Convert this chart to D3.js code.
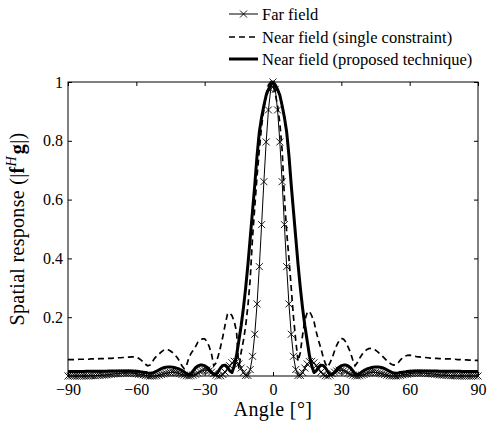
<!DOCTYPE html>
<html>
<head>
<meta charset="utf-8">
<script src="https://cdn.jsdelivr.net/npm/d3@7"></script>
<style>
  body { margin: 0; background: #fff; }
  text { font-family: "Liberation Serif", "Times New Roman", serif; fill: #000; }
</style>
</head>
<body>
<div id="chart"></div>
<script>
// Angle grid in degrees
const angles = [
  -90,-89,-88,-87,-86,-85,-84,-83,-82,-81,-80,-79,-78,-77,-76,-75,-74,-73,-72,-71,
  -70,-69,-68,-67,-66,-65,-64,-63,-62,-61,-60,-59,-58,-57,-56,-55,-54,-53,-52,-51,
  -50,-49,-48,-47,-46,-45,-44,-43,-42,-41,-40,-39,-38,-37,-36,-35,-34,-33,-32,-31,
  -30,-29,-28,-27,-26,-25,-24,-23,-22,-21,-20,-19,-18,-17,-16,-15,-14,-13,-12,-11,
  -10,-9,-8,-7,-6,-5,-4,-3,-2,-1,0,1,2,3,4,5,6,7,8,9,
  10,11,12,13,14,15,16,17,18,19,20,21,22,23,24,25,26,27,28,29,
  30,31,32,33,34,35,36,37,38,39,40,41,42,43,44,45,46,47,48,49,
  50,51,52,53,54,55,56,57,58,59,60,61,62,63,64,65,66,67,68,69,
  70,71,72,73,74,75,76,77,78,79,80,81,82,83,84,85,86,87,88,89,90
];

const farField = [
  0,0,0,0,0,0,0,0,0,0,
  0.001,0.001,0.001,0.002,0.002,0.003,0.003,0.004,0.005,0.006,
  0.007,0.008,0.008,0.009,0.010,0.010,0.010,0.010,0.010,0.009,
  0.008,0.006,0.005,0.004,0.002,0.001,0.000,0.000,0.000,0.001,
  0.003,0.005,0.007,0.009,0.011,0.012,0.013,0.012,0.010,0.008,
  0.005,0.003,0.001,0.000,0.001,0.003,0.006,0.010,0.015,0.018,
  0.020,0.020,0.017,0.013,0.008,0.003,0.000,0.001,0.005,0.013,
  0.024,0.035,0.045,0.050,0.049,0.041,0.027,0.012,0.002,0.002,
  0.022,0.067,0.142,0.245,0.372,0.515,0.661,0.796,0.905,0.975,
  1,
  0.975,0.905,0.796,0.661,0.515,0.372,0.245,0.142,0.067,0.022,
  0.002,0.002,0.012,0.027,0.041,0.049,0.050,0.045,0.035,0.024,
  0.013,0.005,0.001,0.000,0.003,0.008,0.013,0.017,0.020,0.020,
  0.018,0.015,0.010,0.006,0.003,0.001,0.000,0.001,0.003,0.005,
  0.008,0.010,0.012,0.013,0.012,0.011,0.009,0.007,0.005,0.003,
  0.001,0.000,0.000,0.000,0.001,0.002,0.004,0.005,0.006,0.008,
  0.009,0.010,0.010,0.010,0.010,0.010,0.009,0.008,0.008,0.007,
  0.006,0.005,0.004,0.003,0.003,0.002,0.002,0.001,0.001,0.001,
  0,0,0,0,0,0,0,0,0,0
];

const nearSingle = [
  0.056,0.056,0.056,0.056,0.056,0.057,0.057,0.057,0.057,0.057,
  0.058,0.058,0.058,0.058,0.059,0.059,0.059,0.060,0.060,0.060,
  0.061,0.061,0.062,0.062,0.063,0.063,0.064,0.064,0.065,0.065,
  0.064,0.060,0.055,0.048,0.040,0.035,0.037,0.048,0.060,0.068,
  0.075,0.082,0.088,0.091,0.089,0.085,0.079,0.072,0.062,0.050,
  0.035,0.025,0.035,0.060,0.077,0.088,0.100,0.115,0.122,0.126,
  0.126,0.118,0.100,0.075,0.035,0.045,0.070,0.100,0.135,0.175,
  0.210,0.215,0.205,0.185,0.150,0.025,0.080,0.120,0.170,0.240,
  0.330,0.470,0.575,0.680,0.770,0.850,0.910,0.960,0.990,1.000,
  0.990,
  0.960,0.920,0.860,0.770,0.610,0.490,0.400,0.300,0.200,0.120,
  0.050,0.080,0.140,0.190,0.215,0.220,0.205,0.185,0.150,0.120,
  0.095,0.065,0.042,0.030,0.045,0.062,0.085,0.105,0.120,0.128,
  0.125,0.115,0.098,0.080,0.055,0.035,0.045,0.060,0.072,0.082,
  0.089,0.093,0.094,0.093,0.088,0.082,0.075,0.068,0.060,0.052,
  0.045,0.040,0.037,0.038,0.045,0.055,0.063,0.068,0.070,0.071,
  0.070,0.068,0.066,0.065,0.064,0.063,0.063,0.062,0.061,0.061,
  0.060,0.060,0.059,0.059,0.059,0.058,0.058,0.058,0.057,0.057,
  0.056,0.056,0.055,0.055,0.055,0.054,0.054,0.054,0.053,0.053
];

const nearProposed = [
  0.015,0.015,0.015,0.015,0.015,0.015,0.015,0.015,0.016,0.016,
  0.016,0.016,0.016,0.016,0.016,0.016,0.016,0.016,0.017,0.017,
  0.017,0.017,0.017,0.017,0.017,0.017,0.017,0.017,0.017,0.016,
  0.016,0.015,0.014,0.013,0.012,0.010,0.009,0.010,0.013,0.017,
  0.021,0.025,0.028,0.030,0.031,0.031,0.030,0.028,0.026,0.023,
  0.019,0.014,0.008,0.004,0.008,0.018,0.028,0.034,0.037,0.037,
  0.035,0.030,0.022,0.012,0.004,0.006,0.016,0.028,0.036,0.037,
  0.030,0.018,0.012,0.035,0.070,0.120,0.170,0.230,0.300,0.380,
  0.470,0.560,0.650,0.750,0.830,0.880,0.920,0.955,0.975,0.990,
  1.000,
  0.990,0.975,0.955,0.920,0.880,0.830,0.750,0.650,0.560,0.470,
  0.380,0.300,0.230,0.170,0.120,0.070,0.035,0.012,0.018,0.030,
  0.037,0.036,0.028,0.016,0.006,0.004,0.012,0.022,0.030,0.035,
  0.037,0.037,0.034,0.028,0.018,0.008,0.004,0.008,0.014,0.019,
  0.023,0.026,0.028,0.030,0.031,0.031,0.030,0.028,0.025,0.021,
  0.017,0.013,0.010,0.009,0.010,0.012,0.013,0.014,0.015,0.016,
  0.016,0.017,0.017,0.017,0.017,0.017,0.017,0.017,0.017,0.017,
  0.017,0.017,0.016,0.016,0.016,0.016,0.016,0.016,0.016,0.016,
  0.016,0.016,0.015,0.015,0.015,0.015,0.015,0.015,0.015,0.015
];

const xTicks = [-90, -60, -30, 0, 30, 60, 90];
const yTicks = [0.2, 0.4, 0.6, 0.8, 1];
const legendLabels = ['Far field', 'Near field (single constraint)', 'Near field (proposed technique)'];

const width = 492;
const height = 423;
const margin = { top: 82, right: 14, bottom: 47, left: 68 };
const chartWidth = width - margin.left - margin.right;
const chartHeight = height - margin.top - margin.bottom;

const svg = d3.select('#chart').append('svg')
    .attr('width', width)
    .attr('height', height);

const g = svg.append('g')
    .attr('transform', `translate(${margin.left},${margin.top})`);

// Scales
const xScale = d3.scaleLinear().domain([-90, 90]).range([0, chartWidth]);
const yScale = d3.scaleLinear().domain([0, 1]).range([chartHeight, 0]);

// Axes, ticks pointing inward on all four sides
const tickLen = 4;
g.append('g')
    .attr('transform', `translate(0,${chartHeight})`)
    .call(d3.axisBottom(xScale).tickValues(xTicks).tickSizeInner(-tickLen).tickSizeOuter(0)
        .tickPadding(8).tickFormat(d3.format('d')));
g.append('g')
    .call(d3.axisTop(xScale).tickValues(xTicks).tickSizeInner(-tickLen).tickSizeOuter(0).tickFormat(''));
g.append('g')
    .call(d3.axisLeft(yScale).tickValues(yTicks).tickSizeInner(-tickLen).tickSizeOuter(0)
        .tickPadding(5).tickFormat(d => String(d)));
g.append('g')
    .attr('transform', `translate(${chartWidth},0)`)
    .call(d3.axisRight(yScale).tickValues(yTicks).tickSizeInner(-tickLen).tickSizeOuter(0).tickFormat(''));

g.selectAll('.domain').remove();
g.selectAll('.tick line').attr('stroke', '#000').attr('stroke-width', 1);
g.selectAll('.tick text')
    .style('font-family', '"Liberation Serif", serif')
    .style('font-size', '16px')
    .attr('fill', '#000');

// Frame
g.append('rect')
    .attr('x', 0).attr('y', 0)
    .attr('width', chartWidth).attr('height', chartHeight)
    .attr('fill', 'none').attr('stroke', '#000').attr('stroke-width', 1);

// Line generator
const line = d3.line()
    .x((d, i) => xScale(angles[i]))
    .y(d => yScale(d));

const crossPath = 'M-3.5,-3.5L3.5,3.5M-3.5,3.5L3.5,-3.5';

// Far field: thin line with x markers
g.append('path')
    .datum(farField)
    .attr('d', line)
    .attr('fill', 'none')
    .attr('stroke', '#000')
    .attr('stroke-width', 1);

g.append('g').selectAll('path')
    .data(farField)
    .join('path')
    .attr('transform', (d, i) => `translate(${xScale(angles[i])},${yScale(d)})`)
    .attr('d', crossPath)
    .attr('fill', 'none')
    .attr('stroke', '#000')
    .attr('stroke-width', 0.9);

// Near field (single constraint): dashed
g.append('path')
    .datum(nearSingle)
    .attr('d', line)
    .attr('fill', 'none')
    .attr('stroke', '#000')
    .attr('stroke-width', 1.7)
    .attr('stroke-dasharray', '6,4');

// Near field (proposed technique): thick
g.append('path')
    .datum(nearProposed)
    .attr('d', line)
    .attr('fill', 'none')
    .attr('stroke', '#000')
    .attr('stroke-width', 3)
    .attr('stroke-linejoin', 'round');

// Legend
const legend = svg.append('g').attr('transform', 'translate(229,0)');
const rowY = [14, 37, 59];
const styles = [
    { w: 1, dash: null, marker: true },
    { w: 1.7, dash: '6,4', marker: false },
    { w: 3, dash: null, marker: false }
];
legendLabels.forEach((label, i) => {
    const row = legend.append('g').attr('transform', `translate(0,${rowY[i]})`);
    row.append('line')
        .attr('x1', 0).attr('x2', 29)
        .attr('stroke', '#000')
        .attr('stroke-width', styles[i].w)
        .attr('stroke-dasharray', styles[i].dash);
    if (styles[i].marker) {
        row.append('path')
            .attr('transform', 'translate(14.5,0)')
            .attr('d', crossPath)
            .attr('stroke', '#000')
            .attr('stroke-width', 0.9);
    }
    row.append('text')
        .attr('x', 33)
        .attr('y', 5.5)
        .style('font-size', '16.5px')
        .text(label);
});

// Axis labels
svg.append('text')
    .attr('x', margin.left + chartWidth / 2)
    .attr('y', 416)
    .attr('text-anchor', 'middle')
    .style('font-size', '20px')
    .style('letter-spacing', '0.4px')
    .text('Angle [°]');

const yLabel = svg.append('text')
    .attr('transform', `translate(24,${margin.top + chartHeight / 2}) rotate(-90)`)
    .attr('text-anchor', 'middle')
    .style('font-size', '20px')
    .style('letter-spacing', '0.3px');
yLabel.append('tspan').text('Spatial response (|');
yLabel.append('tspan').style('font-weight', 'bold').text('f');
yLabel.append('tspan').style('font-style', 'italic').style('font-size', '14px')
    .attr('dy', -8).text('H');
yLabel.append('tspan').style('font-weight', 'bold').attr('dy', 8).attr('dx', 2).text('g');
yLabel.append('tspan').text('|)');
</script>
</body>
</html>
